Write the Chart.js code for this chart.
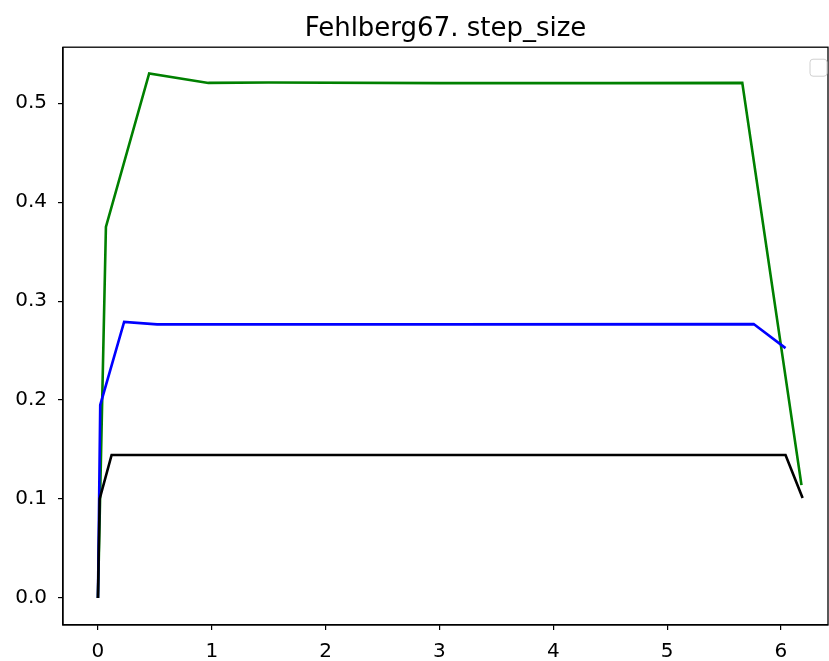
<!DOCTYPE html>
<html>
<head>
<meta charset="utf-8">
<script src="https://cdn.jsdelivr.net/npm/chart.js@4"></script>
<style>
  html, body { margin: 0; padding: 0; background: #fff; }
  #wrap { width: 829px; height: 661px; }
</style>
</head>
<body>
<div id="wrap"><canvas id="stepChart"></canvas></div>
<script>
// datos
const greenX = [0, 0.07, 0.45, 0.97, 1.5, 3.0, 4.5, 5.66, 6.18];
const greenY = [0, 0.375, 0.530, 0.5205, 0.521, 0.5203, 0.5203, 0.5205, 0.114];

const blueX = [0, 0.02, 0.23, 0.52, 3.0, 5.76, 6.04];
const blueY = [0, 0.195, 0.279, 0.2765, 0.2765, 0.2768, 0.2525];

const blackX = [0, 0.015, 0.12, 3.0, 6.04, 6.19];
const blackY = [0, 0.100, 0.1445, 0.1445, 0.1445, 0.101];

const xTicks = [0, 1, 2, 3, 4, 5, 6];
const yTicks = [0.0, 0.1, 0.2, 0.3, 0.4, 0.5];

const titulo = 'Fehlberg67. step_size';

const toPoints = (xs, ys) => xs.map((x, i) => ({ x: x, y: ys[i] }));

// marco completo y caja de leyenda vacia
const framePlugin = {
    id: 'frame',
    afterDraw(chart) {
        const { ctx, chartArea: a } = chart;
        ctx.save();
        ctx.strokeStyle = '#000';
        ctx.lineWidth = 1.3;
        ctx.strokeRect(a.left, a.top, a.right - a.left, a.bottom - a.top);
        // leyenda sin etiquetas (como matplotlib)
        const w = 17, h = 17, x = a.right - w - 1, y = a.top + 12, r = 3;
        ctx.beginPath();
        ctx.roundRect(x, y, w, h, r);
        ctx.fillStyle = 'rgba(255,255,255,0.8)';
        ctx.fill();
        ctx.strokeStyle = '#d0d0d0';
        ctx.lineWidth = 1;
        ctx.stroke();
        ctx.restore();
    }
};

const lineStyle = (color) => ({
    borderColor: color,
    backgroundColor: color,
    borderWidth: 2.6,
    pointRadius: 0,
    fill: false,
    tension: 0,
    borderJoinStyle: 'miter'
});

new Chart(document.getElementById('stepChart'), {
    type: 'line',
    data: {
        datasets: [
            { label: 'black', data: toPoints(blackX, blackY), ...lineStyle('#000000') },
            { label: 'blue', data: toPoints(blueX, blueY), ...lineStyle('#0000ff') },
            { label: 'green', data: toPoints(greenX, greenY), ...lineStyle('#008000') }
        ]
    },
    options: {
        responsive: true,
        maintainAspectRatio: false,
        animation: false,
        layout: { padding: { left: 0, right: 1, top: 0, bottom: 0 } },
        scales: {
            x: {
                type: 'linear',
                min: -0.307,
                max: 6.413,
                afterBuildTicks: (s) => { s.ticks = xTicks.map(v => ({ value: v })); },
                afterFit: (s) => { s.height = 36; },
                grid: { display: true, drawOnChartArea: false, drawTicks: true, tickLength: 5, color: '#000', lineWidth: 1.2 },
                border: { display: true, color: '#000', width: 1.3 },
                ticks: {
                    color: '#000',
                    padding: 10,
                    maxRotation: 0,
                    autoSkip: false,
                    font: { family: 'DejaVu Sans', size: 20 },
                    callback: (v) => String(v)
                }
            },
            y: {
                type: 'linear',
                min: -0.0273,
                max: 0.5566,
                afterBuildTicks: (s) => { s.ticks = yTicks.map(v => ({ value: v })); },
                afterFit: (s) => { s.width = 63; },
                grid: { display: true, drawOnChartArea: false, drawTicks: true, tickLength: 5, color: '#000', lineWidth: 1.2 },
                border: { display: true, color: '#000', width: 1.3 },
                ticks: {
                    color: '#000',
                    padding: 11,
                    autoSkip: false,
                    font: { family: 'DejaVu Sans', size: 20 },
                    callback: (v) => Number(v).toFixed(1)
                }
            }
        },
        plugins: {
            legend: { display: false },
            tooltip: { enabled: false },
            title: {
                display: true,
                fullSize: false,
                text: titulo,
                color: '#000',
                font: { family: 'DejaVu Sans', size: 26, weight: 'normal' },
                padding: { top: 14, bottom: 2 }
            }
        }
    },
    plugins: [framePlugin]
});
</script>
</body>
</html>
